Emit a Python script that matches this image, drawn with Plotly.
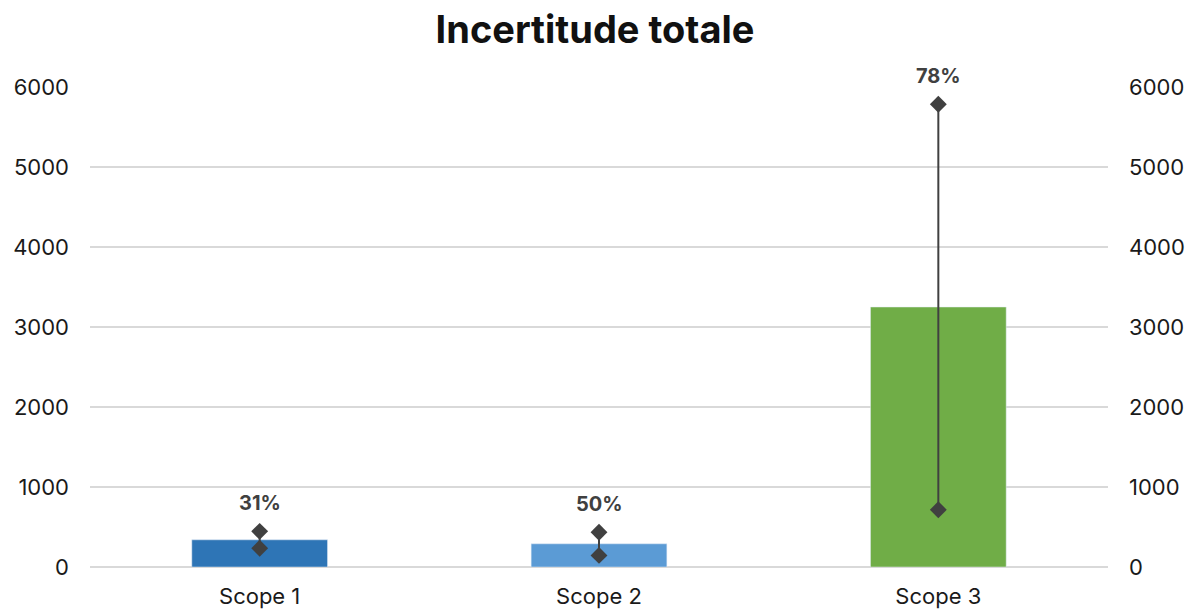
import plotly.graph_objects as go

# Emissions per scope and their relative uncertainty
categories = ["Scope 1", "Scope 2", "Scope 3"]
values = [340, 290, 3250]
uncertainty_pct = [31, 50, 78]
bar_colors = ["#2E75B6", "#5B9BD5", "#70AD47"]

err = [v * p / 100 for v, p in zip(values, uncertainty_pct)]
upper = [v + e for v, e in zip(values, err)]
lower = [v - e for v, e in zip(values, err)]

FONT = "Inter"
DARK = "#404040"

fig = go.Figure()

fig.add_trace(go.Bar(
    x=categories, y=values, marker_color=bar_colors, width=0.4,
    showlegend=False, hoverinfo="skip",
))

# Vertical uncertainty range line
fig.add_trace(go.Scatter(
    x=categories, y=values, mode="markers", marker=dict(size=0.1, color=DARK),
    error_y=dict(type="data", array=err, arrayminus=err, color=DARK,
                 thickness=2, width=0),
    showlegend=False, hoverinfo="skip",
))

# Diamond markers at the bounds
fig.add_trace(go.Scatter(
    x=categories + categories, y=upper + lower, mode="markers",
    marker=dict(symbol="diamond", size=13, color=DARK),
    showlegend=False, hoverinfo="skip",
))

# Secondary axis mirroring the primary scale
fig.add_trace(go.Scatter(
    x=categories, y=values, yaxis="y2", mode="markers",
    marker=dict(opacity=0), showlegend=False, hoverinfo="skip",
))

for c, u, p in zip(categories, upper, uncertainty_pct):
    fig.add_annotation(
        x=c, y=u, text=f"<b>{p}%</b>", showarrow=False, yshift=28,
        font=dict(family=FONT, size=20, color=DARK),
    )

tickvals = [0, 1000, 2000, 3000, 4000, 5000, 6000]

fig.update_layout(
    width=1190, height=612,
    paper_bgcolor="white", plot_bgcolor="white",
    margin=dict(l=90, r=82, t=87, b=45),
    title=dict(text="<b>Incertitude totale</b>", x=0.5, xanchor="center",
               y=0.951, yanchor="middle",
               font=dict(family=FONT, size=38, color="#111111")),
    font=dict(family=FONT, size=22, color="#1a1a1a"),
    xaxis=dict(showgrid=False, showline=False, ticks="", automargin=False,
               ticklabelstandoff=14, tickfont=dict(size=22)),
    yaxis=dict(range=[0, 6000], tickvals=tickvals, showgrid=True,
               gridcolor="#d9d9d9", gridwidth=1.5, zeroline=True,
               zerolinecolor="#d9d9d9", zerolinewidth=1.5, automargin=False,
               showline=False, ticks="", ticklabelstandoff=20),
    yaxis2=dict(range=[0, 6000], tickvals=tickvals, overlaying="y",
                side="right", showgrid=False, zeroline=False, automargin=False,
                showline=False, ticks="", ticklabelstandoff=20),
    bargap=0.6,
)

fig.write_html("out.html")
